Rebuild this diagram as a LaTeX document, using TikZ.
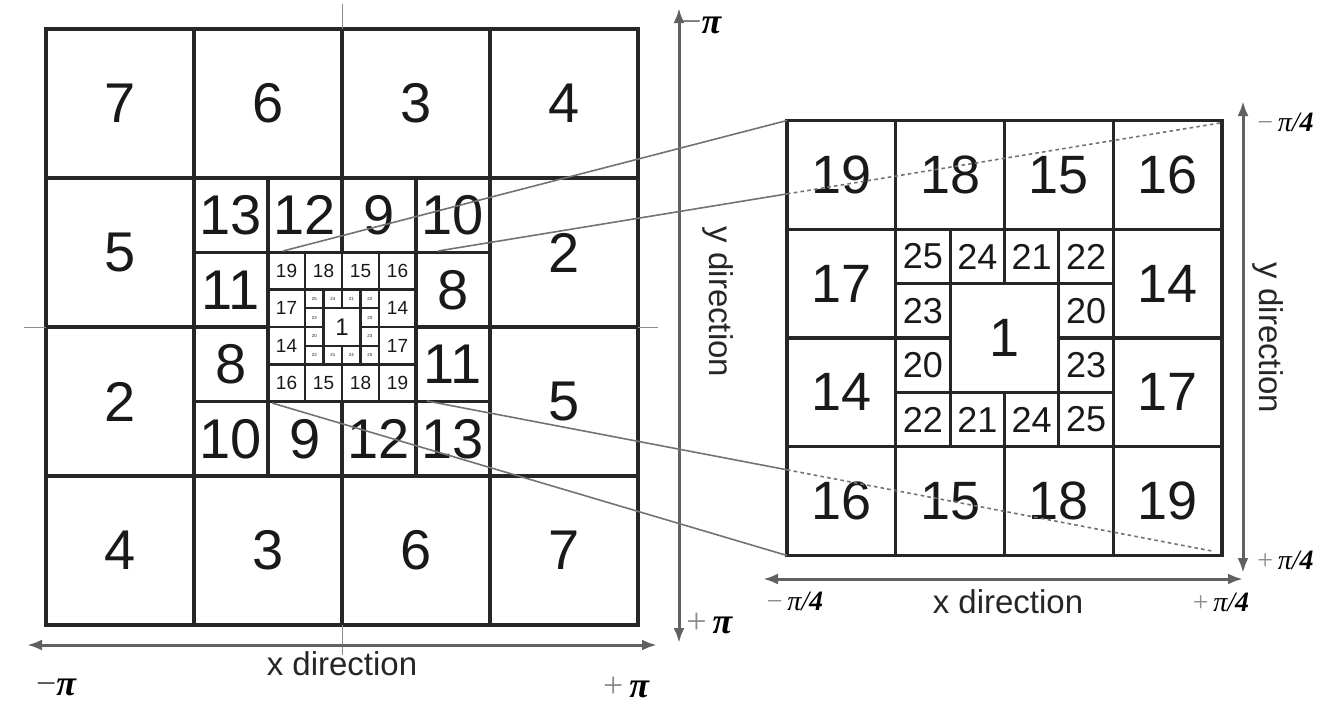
\documentclass[tikz,border=0pt]{standalone}
\usepackage{fontspec}
\setmainfont{Liberation Sans}
\newfontfamily\pifont{Liberation Serif}
\usetikzlibrary{arrows.meta, calc}

\tikzset{
  cell/.style={line width=#1, draw=black!85},
  num/.style={inner sep=0pt, text=black!90, font=\fontsize{#1}{#1}\selectfont},
  axis/.style={line width=1.5pt, draw=black!62, {Latex[length=7.5pt,width=5.5pt]}-{Latex[length=7.5pt,width=5.5pt]}},
  axisstub/.style={line width=0.5pt, draw=black!45},
  zoomline/.style={line width=0.8pt, draw=black!55},
  zoomdots/.style={zoomline, dash pattern=on 1.8pt off 1.6pt},
  dirlabel/.style={font=\fontsize{16.5}{16.5}\selectfont, text=black!85, inner sep=0pt},
  pilabel/.style={font=\pifont\bfseries\itshape\fontsize{18}{18}\selectfont, inner sep=0pt},
  pifour/.style={font=\pifont\itshape\fontsize{14}{14}\selectfont, inner sep=0pt}
}

\begin{document}
\begin{tikzpicture}[x=0.5pt, y=-0.5pt]

\useasboundingbox (0,0) rectangle (1334,702);

% nested grids: name/x/y/cell w/cell h/line/font/ring labels
\foreach \g/\x/\y/\cx/\cy/\lw/\fs/\pa/\pb/\pc/\pd/\pe/\pf in {
  l1/46/29/148/149/1.7/28/7/6/3/4/5/2,
  l2/194/178/74/74.5/1.6/28/13/12/9/10/11/8,
  l3/268/252.5/37/37.25/1.3/9.5/19/18/15/16/17/14,
  l4/305/289.75/18.5/18.625/1.1/2.2/25/24/21/22/23/20,
  r1/787/120.5/108.75/108.75/1.7/27/19/18/15/16/17/14,
  r2/895.75/229.25/54.375/54.375/1.6/18/25/24/21/22/23/20} {
  \draw[cell=\lw pt] (\x,\y) rectangle ++(4*\cx,4*\cy);
  \draw[cell=\lw pt] (\x+\cx,\y) -- ++(0,4*\cy) (\x+3*\cx,\y) -- ++(0,4*\cy)
    (\x,\y+\cy) -- ++(4*\cx,0) (\x,\y+3*\cy) -- ++(4*\cx,0)
    (\x+2*\cx,\y) -- ++(0,\cy) (\x+2*\cx,\y+3*\cy) -- ++(0,\cy)
    (\x,\y+2*\cy) -- ++(\cx,0) (\x+3*\cx,\y+2*\cy) -- ++(\cx,0);
  \node[num=\fs] (\g-11) at (\x+0.5*\cx,\y+0.5*\cy) {\pa};
  \node[num=\fs] (\g-12) at (\x+1.5*\cx,\y+0.5*\cy) {\pb};
  \node[num=\fs] (\g-13) at (\x+2.5*\cx,\y+0.5*\cy) {\pc};
  \node[num=\fs] (\g-14) at (\x+3.5*\cx,\y+0.5*\cy) {\pd};
  \node[num=\fs] (\g-21) at (\x+0.5*\cx,\y+1.5*\cy) {\pe};
  \node[num=\fs] (\g-24) at (\x+3.5*\cx,\y+1.5*\cy) {\pf};
  \node[num=\fs] (\g-31) at (\x+0.5*\cx,\y+2.5*\cy) {\pf};
  \node[num=\fs] (\g-34) at (\x+3.5*\cx,\y+2.5*\cy) {\pe};
  \node[num=\fs] (\g-41) at (\x+0.5*\cx,\y+3.5*\cy) {\pd};
  \node[num=\fs] (\g-42) at (\x+1.5*\cx,\y+3.5*\cy) {\pc};
  \node[num=\fs] (\g-43) at (\x+2.5*\cx,\y+3.5*\cy) {\pb};
  \node[num=\fs] (\g-44) at (\x+3.5*\cx,\y+3.5*\cy) {\pa};
}

\node[num=12] (l-one) at (342,327) {1};
\node[num=27] (r-one) at (1004.5,338) {1};

% axis stubs through the left grid
\draw[axisstub] (342,4) -- (342,29);
\draw[axisstub] (342,625) -- (342,655);
\draw[axisstub] (24,327) -- (46,327);
\draw[axisstub] (638,327) -- (658,327);

% axes
\draw[axis] (27,645) -- (657,645);
\draw[axis] (679,8) -- (679,643);
\draw[axis] (763,579) -- (1243,579);
\draw[axis] (1243,101) -- (1243,573);

\node[dirlabel] (xdir-l) at (342,664) {x direction};
\node[dirlabel, rotate=-90] (ydir-l) at (718,302) {y direction};
\node[dirlabel] (xdir-r) at (1008,602) {x direction};
\node[dirlabel, rotate=-90] (ydir-r) at (1268,338) {y direction};

\node[pilabel, anchor=west] (pi-top) at (681,25) {{\mdseries\upshape\color{black!55}−}π};
\node[pilabel, anchor=west] (pi-bot) at (686,623) {{\mdseries\upshape\color{black!45}+}\,π};
\node[pilabel] (pi-left) at (56,687) {{\mdseries\upshape\color{black!70}−}π};
\node[pilabel] (pi-right) at (626,687) {{\mdseries\upshape\color{black!45}+}\,π};

\node[pifour, anchor=west] (q-top) at (1257,122) {{\upshape\color{black!45}−}\,π/\textbf{4}};
\node[pifour, anchor=west] (q-bot) at (1257,560) {{\upshape\color{black!45}+}\,π/\textbf{4}};
\node[pifour] (q-left) at (795,601) {{\upshape\color{black!45}−}\,π/\textbf{4}};
\node[pifour] (q-right) at (1221,602) {{\upshape\color{black!45}+}\,π/\textbf{4}};

% zoom connectors
\coordinate (z1a) at (283,251);
\coordinate (z1b) at (787,120.5);
\coordinate (z2a) at (438,251);
\coordinate (z2m) at (787,193.9);
\coordinate (z2b) at (1220,123);
\coordinate (z3a) at (272,403);
\coordinate (z3b) at (787,555.5);
\coordinate (z4a) at (427,401);
\coordinate (z4m) at (787,469.8);
\coordinate (z4b) at (1212,551);

\draw[zoomline] (z1a) -- (z1b);
\draw[zoomline] (z2a) -- (z2m);
\draw[zoomdots] (z2m) -- (z2b);
\draw[zoomline] (z3a) -- (z3b);
\draw[zoomline] (z4a) -- (z4m);
\draw[zoomdots] (z4m) -- (z4b);

\end{tikzpicture}
\end{document}
